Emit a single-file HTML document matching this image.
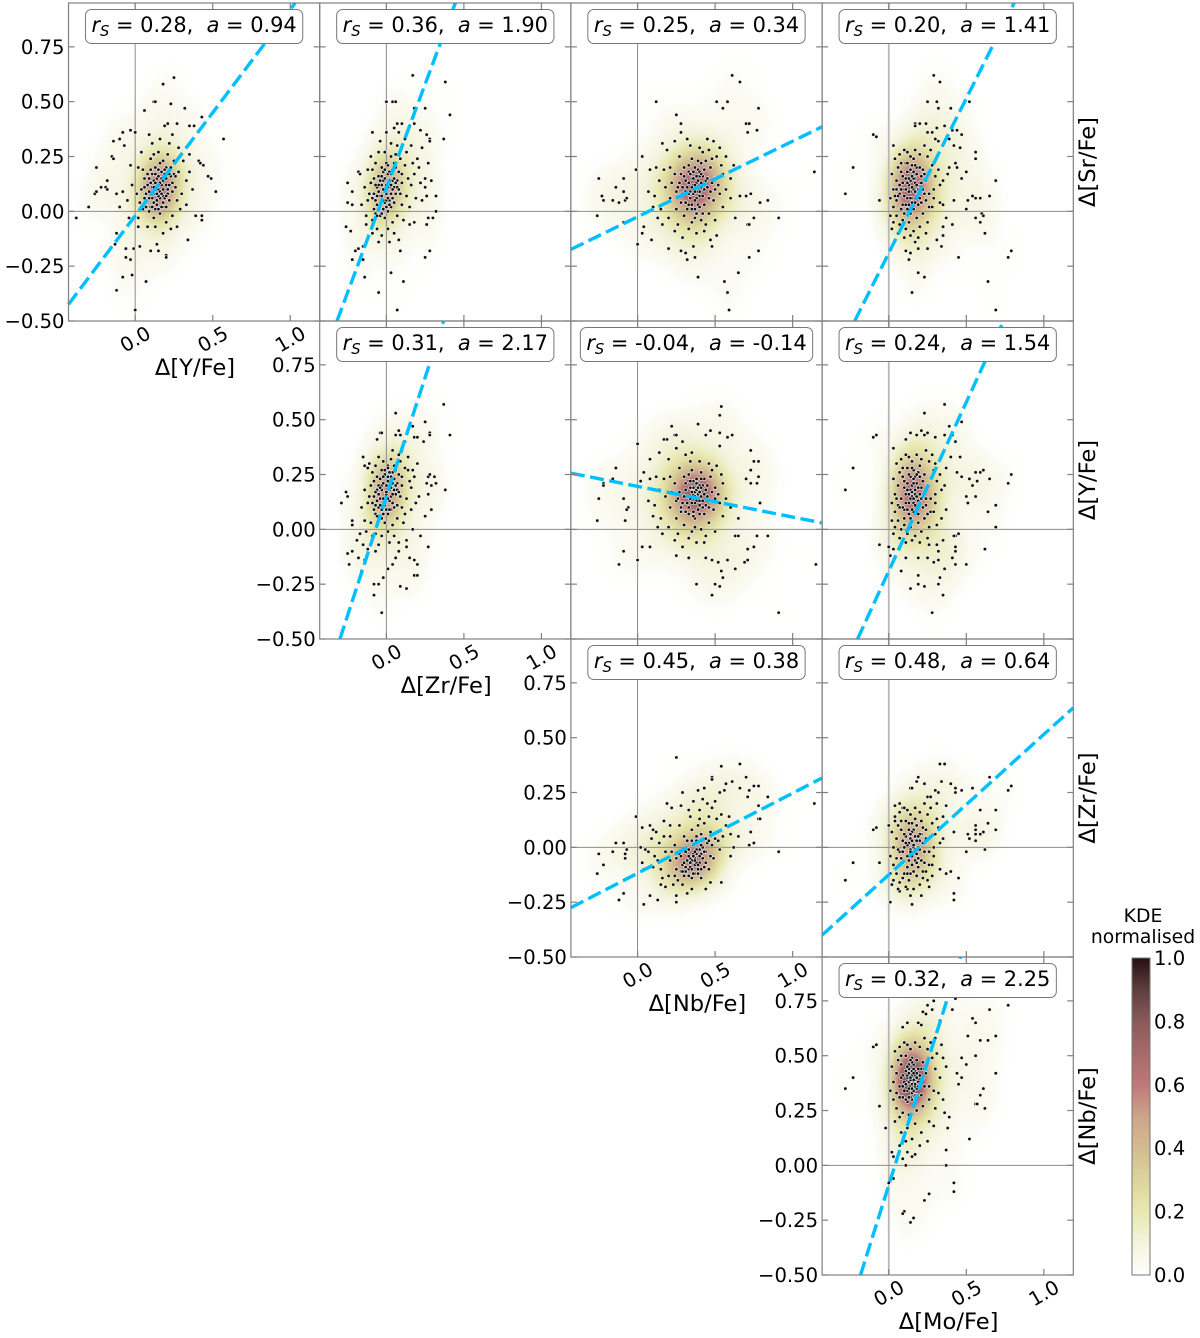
<!DOCTYPE html>
<html lang="en">
<head>
<meta charset="utf-8">
<title>KDE corner plot</title>
<style>
html,body{margin:0;padding:0;background:#fff;}
#figure{position:relative;width:1200px;height:1338px;overflow:hidden;background:#fff;}
#figure canvas{position:absolute;}
#figure svg{position:absolute;left:0;top:0;}
text{font-family:"DejaVu Sans","Liberation Sans",sans-serif;fill:#000;white-space:pre;}
</style>
</head>
<body>
<div id="figure"></div>
<script>
/* Scatter values [x, y], one array per panel */
const srVsY = [[-.38,-.03],[-.3,.02],[-.26,.08],[-.25,.09],[-.25,.2],[-.22,.11],[-.19,.11],[-.18,.14],[-.18,.1],[-.15,.25],[-.14,.24],[-.14,.32],[-.1,.33],[-.08,.36],[-.07,.3],[-.03,.37],[0,.36],[.12,.5],[.13,.5],[.06,.46],[.23,.49],[.18,.58],[.25,.61],[.32,.47],[.57,.33],[.52,.09],[.43,.43],[.38,.39],[.35,.39],[.41,.23],[.42,.22],[.44,.21],[.47,.16],[.49,.15],[.34,-.13],[.43,-.04],[.43,-.02],[.39,-.02],[.2,-.2],[.2,-.21],[.15,-.18],[.1,-.18],[.14,-.15],[.07,-.32],[0,-.45],[-.03,-.22],[-.06,-.21],[-.08,-.3],[-.02,-.29],[-.12,-.36],[-.06,-.17],[-.01,-.17],[.03,-.16],[-.13,-.15],[-.12,-.1],[.19,.39],[.21,.4],[.24,.35],[.27,.4],[.16,.33],[.09,.35],[.11,.31],
[.15,.1],[.12,.14],[.18,.07],[.2,.12],[.09,.09],[.14,.03],[.23,.16],[.17,.18],[.11,.06],[.06,.11],[.22,.05],[.26,.11],[.13,.2],[.19,.02],[.08,.17],[.16,-.01],[.03,.04],[.28,.18],[.25,.23],[.1,.24],[.05,.19],[.01,.08],[.3,.08],[.33,.14],[.21,.26],[.15,.27],[.07,.02],[.12,-.03],[.2,-.05],[.24,-.02],[.29,.01],[.02,-.03],[-.02,.12],[-.05,.05],[-.08,.09],[.04,.27],[.18,.23],[.27,.05],[.14,.15],[.16,.06],[.19,.17],[.11,.11],[.13,.08],[.17,.12],[.09,.15],[.21,.08],[.24,.13],[.06,.06],[.15,.19],[.2,.2],[.1,.02],[.31,.23],[.35,.18],[.37,.1],[.33,.03],[.27,-.07],[.18,-.1],[.08,-.07],[.02,-.07],[-.04,-.03],[-.1,.02],[-.12,.08],[.13,-.07],[.23,-.08],[.35,.26],[.02,.2],[-.03,.21],[.28,.29],[.22,.31],[.12,.26],
[.14,.11],[.16,.13],[.12,.09],[.18,.1],[.15,.07],[.13,.13],[.17,.15],[.1,.13],[.2,.15],[.14,.05],[.18,.04],[.12,.04],[.08,.12],[.22,.12],[.16,.09],[.11,.17],[.19,.19],[.15,.16],[.09,.06],[.13,.01],[.17,.02],[.21,.1],[.07,.08],[.24,.09],[.25,.17],[.06,.15],[.1,.19],[.16,.22],[.2,.02],[.15,.12],[.12,.11],[.18,.14],[.14,.08],[.23,.2],[.04,.1],[.22,.17],[.11,.02],[.17,.08],[.13,.17],[.19,.06],[.05,.01],[.09,0],[.15,.01],[.26,.16],[.2,.07]];

const srVsZr = [[.17,.62],[.38,.59],[0,.5],[.04,.5],[.06,.5],[.18,.47],[.25,.47],[.41,.44],[.07,.4],[.1,.4],[.05,.38],[.15,.39],[.18,.4],[-.09,.36],[0,.36],[.22,.37],[.26,.35],[.28,.33],[.28,.32],[.37,.33],[-.04,.32],[.23,.29],[.27,.22],[.25,.15],[.29,.14],[.25,.11],[.32,.07],[.26,.07],[.23,.05],[.32,0],[.3,-.03],[.27,-.03],[.18,-.05],[.15,-.06],[.26,-.06],[.28,-.18],[.25,-.21],[.09,-.18],[.03,-.28],[.11,-.32],[-.14,-.3],[-.05,-.37],[.07,-.45],[-.22,-.22],[-.2,-.18],[-.18,-.17],[-.15,-.22],[-.15,-.16],[-.26,-.07],[-.23,-.09],[-.25,.13],[-.22,.09],[-.25,.04],[-.22,.03],[-.18,.18],[-.17,.17],
[0,.08],[-.03,.12],[.02,.05],[-.06,.03],[.04,.14],[-.02,.18],[.06,.08],[-.08,.08],[-.04,-.02],[.01,0],[.08,.18],[.05,.22],[.1,.13],[-.1,.13],[-.12,.05],[-.05,.16],[.03,.25],[.09,.24],[-.01,.27],[-.07,.22],[-.09,.19],[.12,.21],[.13,.27],[.07,.3],[.03,.31],[-.12,.19],[-.14,.11],[-.16,.03],[-.13,-.02],[-.09,-.04],[-.06,-.08],[-.03,-.11],[.01,-.08],[.04,-.05],[.07,-.02],[.1,.03],[.13,.07],[.16,.12],[.18,.17],[.2,.24],[.17,.22],[.14,.15],[.02,.11],[-.01,.04],[-.04,.07],[.03,.02],[-.02,.14],[.05,.11],[.01,.17],[-.06,.11],[-.08,.15],[.07,.14],[-.03,.2],[.04,.19],[.09,.08],[-.07,-.01],[-.11,.08],[-.01,-.03],[.05,-.1],[.08,-.13],[.02,-.14],[-.05,-.14],[-.09,-.1],[-.13,-.06],[.11,-.04],[.12,.33],[.08,.36],[.16,.3],[.21,.2],[.22,.13],[.19,.06],[.15,.02],[.06,.26],[-.05,.27],[-.1,.25],[0,.22],[.01,.13],
[-.01,.09],[.01,.11],[-.03,.07],[.03,.08],[0,.05],[-.02,.1],[.02,.14],[-.05,.09],[.05,.15],[-.04,.03],[0,.02],[-.06,.07],[.04,.06],[-.01,.15],[.02,.18],[-.03,.16],[.06,.2],[.07,.11],[-.07,.05],[-.02,.01],[.01,.06],[.03,.12],[-.05,.12],[0,.12],[-.08,.01],[.04,.1],[-.04,.14],[-.02,.05],[.02,.03],[.06,.13],[-.09,.06],[.01,.21],[.05,.04],[-.06,-.02],[.08,.1],[-.03,-.01],[.03,.17],[-.01,.19],[.1,.17],[-.07,.12]];

const srVsNb = [[.61,.62],[.66,.59],[.12,.5],[.51,.5],[.58,.5],[.55,.47],[.78,.47],[.25,.44],[.28,.4],[.28,.36],[.7,.4],[.72,.4],[.71,.36],[.77,.37],[.32,.33],[.24,.32],[.16,.31],[.19,.28],[.03,.25],[-.01,.19],[-.25,.15],[-.09,.15],[-.14,.11],[-.09,.09],[-.23,.07],[-.22,.05],[-.16,.05],[-.12,.04],[-.08,.05],[-.07,.06],[-.26,-.02],[1.14,.18],[.79,.04],[.84,.05],[.73,.08],[.7,.07],[.66,.07],[.91,-.03],[.75,-.03],[.71,-.06],[.72,-.06],[.63,-.03],[.78,-.18],[.72,-.21],[.65,-.28],[.56,-.32],[.58,-.37],[.59,-.45],[.39,-.3],[0,-.15],[-.09,-.05],[.03,-.1],[.04,-.07],[.09,-.13],[.2,-.17],[.28,-.18],[.32,-.22],[.37,-.21],[.31,-.19],[.36,-.16],[.48,-.16],[.47,-.13],[.51,-.11],
[.38,.13],[.34,.09],[.42,.16],[.36,.18],[.4,.07],[.31,.14],[.45,.11],[.33,.03],[.37,.01],[.43,.03],[.29,.08],[.27,.13],[.24,.17],[.3,.2],[.35,.24],[.41,.22],[.47,.2],[.5,.15],[.53,.08],[.49,.05],[.46,-.01],[.41,-.04],[.35,-.05],[.3,-.02],[.25,.01],[.21,.06],[.18,.11],[.14,.14],[.11,.07],[.07,.09],[.1,.02],[.15,.01],[.2,-.03],[.26,-.06],[.33,-.08],[.38,-.1],[.44,-.06],[.5,-.04],[.55,.02],[.57,.1],[.55,.17],[.51,.25],[.46,.28],[.4,.29],[.34,.3],[.27,.25],[.21,.2],[.17,.19],[.12,.2],[.08,.19],[.45,.33],[.49,.32],[.53,.29],[.57,.25],[.62,.21],[.6,.15],[.38,.06],[.39,.19],[.32,.11],[.36,.12],[.41,.11],[.44,.14],[.35,.15],[.4,.16],[.28,.04],[.37,-.03],[.42,.27],[.25,.09],[.22,.13],[.47,.09],[.52,.12],[.31,.04],[.16,-.06],[.24,-.09],[.29,-.12],[.43,-.09],[.13,-.03],[.4,.09],[.33,.18],[.48,.24],[.54,.21],[.6,.06],
[.37,.12],[.39,.14],[.35,.11],[.41,.13],[.38,.09],[.36,.15],[.4,.18],[.33,.13],[.43,.1],[.37,.05],[.34,.06],[.42,.07],[.39,.03],[.35,.01],[.31,.09],[.45,.15],[.29,.11],[.37,.2],[.43,.19],[.33,.21],[.48,.13],[.27,.07],[.38,.16],[.36,.08],[.4,.02],[.32,.01],[.46,.06],[.3,.16],[.41,.17],[.34,.17],[.39,.23],[.44,.23],[.35,.03],[.26,.11],[.5,.1],[.38,-.01],[.42,-.01],[.37,.09],[.33,.08],[.28,.17]];

const srVsMo = [[.29,.62],[.33,.59],[.25,.5],[.31,.5],[.32,.47],[.52,.5],[.4,.47],[-.1,.35],[-.08,.34],[-.23,.2],[-.28,.08],[-.06,.05],[.03,.3],[.17,.4],[.17,.39],[.2,.4],[.24,.4],[.36,.39],[.31,.38],[.25,.36],[.28,.36],[.41,.37],[.44,.37],[.47,.35],[.3,.33],[.32,.32],[.39,.33],[.42,.3],[.46,.29],[.56,.27],[.56,.24],[.43,.22],[.39,.2],[.38,.17],[.44,.2],[.47,.15],[.5,.18],[.69,.14],[.65,.07],[.54,.07],[.56,.06],[.59,.06],[.51,.05],[.42,.05],[.33,.04],[.35,.03],[.5,.01],[.6,-.01],[.61,-.02],[.56,-.03],[.59,-.05],[.37,-.03],[.41,-.06],[.35,-.07],[.62,-.1],[.35,-.11],[.45,-.21],[.79,-.18],[.77,-.21],[.64,-.32],[.69,-.45],[.15,-.37],[.19,-.28],[.23,-.3],[.13,-.22],[.14,-.19],[.11,-.18],[.19,-.17],[.25,-.17],[.31,-.13],[.34,-.16],[.17,-.14],
[.16,.1],[.14,.14],[.18,.07],[.12,.06],[.2,.13],[.1,.1],[.15,.02],[.21,.04],[.09,.03],[.07,.08],[.13,.18],[.18,.2],[.22,.19],[.24,.14],[.26,.08],[.11,.22],[.14,.25],[.2,.26],[.25,.25],[.28,.21],[.3,.16],[.33,.12],[.05,.14],[.03,.1],[.01,.06],[.03,.02],[.05,-.02],[.09,-.04],[.13,-.05],[.18,-.03],[.22,-.01],[.26,.02],[.29,.06],[.06,.2],[.04,.24],[.07,.26],[.1,.28],[.17,.28],[.23,.3],[.27,.28],[.15,.06],[.13,.12],[.17,.15],[.11,.15],[.19,.1],[.09,.13],[.16,.18],[.12,.01],[.07,-.06],[.03,-.05],[.01,-.02],[.11,-.08],[.16,-.09],[.2,-.07],[.25,-.05],[.1,-.12],[.14,-.11],[.19,-.12],[.06,-.1],[.02,-.08],[.24,-.1],[.29,.1],[.32,.19],[.35,.14],[.28,.02],[.15,.21],[.08,.18],[.21,.16],[.14,.09],[.17,.04],[.05,.05],[.23,.08],[.08,.22],[.02,.17],[.12,.27],
[.15,.11],[.17,.13],[.13,.09],[.19,.08],[.14,.06],[.12,.13],[.16,.15],[.1,.07],[.18,.17],[.15,.04],[.11,.03],[.2,.06],[.08,.1],[.22,.1],[.14,.19],[.17,.21],[.12,.18],[.09,.16],[.2,.2],[.16,.01],[.06,.07],[.13,.03],[.18,.12],[.11,.1],[.15,.16],[.24,.05],[.04,.07],[.08,.01],[.21,.13],[.19,.03],[.12,.22],[.16,.24],[.07,.12],[.14,-.01],[.1,-.01],[.17,.09],[.13,.15],[.2,.1],[.23,.17],[.05,.1]];

const yVsZr = [[.37,.57],[.06,.53],[.25,.49],[.41,.43],[.28,.44],[.28,.43],[.17,.47],[-.04,.44],[-.03,.44],[.08,.45],[.06,.43],[.09,.43],[-.06,.41],[.18,.42],[.2,.42],[.12,.4],[.24,.4],[-.15,.33],[.31,.24],[.27,.24],[.28,.25],[.26,.21],[.29,.2],[.32,.21],[.38,.18],[.27,.16],[.19,.12],[.29,.09],[.25,.06],[-.26,.17],[-.25,.15],[-.29,.12],[-.22,.02],[-.22,.04],[.17,0],[.22,-.03],[.27,-.08],[.13,-.05],[.13,-.08],[.15,-.13],[.18,-.14],[.2,-.16],[.18,-.21],[.2,-.21],[.09,-.26],[.13,-.27],[-.03,-.38],[-.08,-.3],[-.08,-.25],[-.05,-.25],[-.02,-.22],[.01,-.18],[-.16,-.19],[-.24,-.16],[-.25,-.11],[-.22,-.1],[-.18,-.13],[-.14,-.14],[.08,-.1],[.06,-.13],[.04,-.16],
[0,.16],[-.03,.2],[.02,.13],[-.05,.1],[.04,.21],[-.01,.25],[.06,.16],[-.08,.15],[-.04,.05],[.01,.07],[.08,.25],[.05,.29],[.1,.2],[-.1,.2],[-.12,.12],[-.06,.24],[.03,.32],[.09,.31],[-.02,.31],[-.07,.29],[-.09,.26],[.12,.28],[.14,.33],[.1,.36],[.04,.36],[-.12,.28],[-.14,.18],[-.16,.1],[-.14,.04],[-.1,.03],[-.07,-.02],[-.03,-.03],[.01,-.01],[.04,.02],[.07,.05],[.1,.1],[.13,.14],[.16,.19],[.18,.24],[.2,.3],[.17,.27],[.15,.22],[.02,.18],[-.01,.11],[-.04,.14],[.03,.09],[-.02,.21],[.05,.18],[.01,.24],[-.06,.18],[-.08,.22],[.07,.21],[-.03,.27],[.04,.26],[.09,.15],[-.07,.07],[-.11,.15],[-.01,.03],[.05,-.03],[.08,-.06],[.02,-.06],[-.05,-.07],[-.09,-.03],[-.13,-.01],[.11,.03],[-.17,-.02],[-.19,-.05],[-.15,-.07],[-.12,-.09],[-.07,-.1],[.12,.07],[.16,.09],[-.11,.3],[-.14,.29],[-.05,.33],[.21,.15],[.14,.27],[.07,.11],[-.03,.09],[.01,.29],[.08,.34],
[0,.17],[.02,.2],[-.02,.14],[.03,.15],[-.01,.12],[-.03,.18],[.01,.22],[-.05,.16],[.05,.23],[-.04,.11],[0,.09],[-.06,.13],[.04,.12],[-.02,.24],[.02,.26],[-.04,.23],[.06,.27],[.07,.18],[-.07,.11],[-.02,.07],[.01,.14],[.03,.19],[-.05,.2],[0,.2],[-.08,.09],[.04,.16],[-.04,.19],[-.02,.1],[.02,.09],[.06,.2],[-.09,.12],[.01,.28],[.05,.1],[-.06,.06],[.08,.17],[-.03,.05],[.03,.24],[-.01,.27],[.1,.24],[-.07,.17]];

const yVsNb = [[.54,.56],[.53,.52],[.39,.48],[.22,.47],[.17,.41],[.19,.41],[.24,.43],[.25,.43],[.29,.4],[.25,.37],[0,.39],[.73,.36],[.73,.27],[.75,.31],[.78,.31],[.78,.24],[.77,.21],[.73,.21],[.7,.23],[.79,.12],[.65,.05],[.84,-.03],[.77,-.03],[.75,-.08],[.71,-.09],[.71,-.14],[.69,-.15],[.63,-.18],[1.15,-.16],[.91,-.38],[-.14,.28],[-.16,.23],[-.22,.21],[-.22,.2],[-.25,.14],[-.09,.14],[-.06,.1],[-.07,.09],[-.26,.04],[-.08,.04],[-.09,-.1],[-.12,-.16],[0,-.14],[.03,-.08],[.08,-.08],[.04,.26],[.02,.22],[.08,.32],[.14,.35],[.2,.32],[.31,.34],[.35,.35],[.47,.45],[.44,.43],[.53,.44],[.58,.42],[.61,.43],[.53,.38],[.38,-.25],[.48,-.3],[.5,-.25],[.53,-.26],[.55,-.22],[.54,-.19],[.25,-.12],[.33,-.13],[.44,-.13],[.48,-.14],[.52,-.15],[.58,-.14],[.63,-.03],[.65,-.03],
[.38,.17],[.34,.14],[.42,.2],[.36,.22],[.4,.11],[.31,.18],[.45,.15],[.33,.07],[.37,.05],[.43,.07],[.29,.12],[.27,.17],[.24,.21],[.3,.24],[.35,.27],[.41,.26],[.47,.24],[.5,.19],[.53,.12],[.49,.09],[.46,.03],[.41,0],[.35,-.01],[.3,.02],[.25,.05],[.21,.1],[.18,.15],[.14,.18],[.11,.11],[.07,.13],[.1,.06],[.15,.05],[.2,.01],[.26,-.02],[.33,-.04],[.38,-.06],[.44,-.03],[.5,-.01],[.55,.06],[.57,.14],[.55,.21],[.51,.29],[.46,.3],[.4,.31],[.34,.31],[.27,.28],[.21,.24],[.17,.23],[.12,.24],[.08,.23],[.38,.13],[.39,.21],[.32,.15],[.36,.16],[.41,.15],[.44,.18],[.35,.19],[.4,.2],[.28,.08],[.37,.01],[.25,.13],[.22,.17],[.47,.13],[.52,.16],[.31,.08],[.16,-.02],[.24,-.05],[.29,-.08],[.43,-.06],[.13,.01],[.4,.13],[.33,.22],[.48,.27],[.54,.25],[.6,.1],[.36,.08],[.42,.1],[.37,.17],[.39,.16],
[.38,.18],[.4,.17],[.36,.19],[.37,.15],[.39,.19],[.35,.17],[.41,.19],[.34,.19],[.43,.16],[.37,.12],[.35,.12],[.42,.13],[.39,.09],[.36,.06],[.32,.12],[.45,.2],[.3,.15],[.38,.23],[.43,.23],[.33,.25],[.48,.17],[.28,.1],[.38,.21],[.4,.07],[.33,.1],[.46,.1],[.31,.21],[.41,.23],[.34,.22],[.44,.11],[.26,.14],[.5,.14]];

const yVsMo = [[.36,.57],[.23,.53],[.39,.47],[.47,.49],[-.1,.42],[-.08,.43],[.03,.37],[.14,.44],[.18,.43],[.21,.45],[.23,.43],[.25,.44],[.3,.42],[.11,.41],[.36,.43],[.41,.43],[.43,.4],[.46,.33],[-.23,.28],[-.28,.18],[.4,.33],[.44,.26],[.47,.24],[.52,.23],[.56,.26],[.59,.26],[.61,.27],[.65,.23],[.79,.25],[.77,.21],[.54,.2],[.57,.22],[.5,.15],[.56,.15],[.51,.12],[.69,.11],[.64,.08],[.69,.01],[.62,-.09],[-.06,-.07],[.43,-.03],[.45,-.02],[.42,-.03],[.43,-.08],[.43,-.1],[.35,-.05],[.31,-.07],[.32,-.1],[.41,-.13],[.5,-.16],[.43,-.16],[.32,-.14],[.29,-.15],[.25,-.13],[.19,-.13],[.11,-.13],[.36,-.18],[.33,-.22],[.32,-.25],[.35,-.3],[.19,-.21],[.19,-.25],[.23,-.26],[.14,-.27],[.28,-.38],[.08,-.19],[0,-.08],[.03,-.09],[.01,-.12],
[.17,.16],[.15,.2],[.19,.13],[.13,.12],[.21,.19],[.11,.16],[.16,.08],[.22,.1],[.1,.09],[.08,.14],[.14,.24],[.19,.26],[.23,.25],[.25,.2],[.27,.14],[.12,.28],[.15,.31],[.21,.32],[.26,.31],[.29,.27],[.31,.22],[.34,.18],[.06,.2],[.04,.16],[.02,.12],[.04,.08],[.06,.04],[.1,.02],[.14,.01],[.19,.03],[.23,.05],[.27,.08],[.3,.12],[.07,.26],[.05,.3],[.08,.32],[.11,.34],[.18,.34],[.24,.36],[.28,.34],[.16,.12],[.14,.18],[.18,.21],[.12,.21],[.2,.16],[.1,.19],[.17,.24],[.13,.07],[.08,0],[.04,.01],[.02,.04],[.12,-.02],[.17,-.03],[.21,-.01],[.26,.01],[.11,-.06],[.15,-.05],[.2,-.06],[.07,-.04],[.03,-.02],[.25,-.04],[.3,.16],[.33,.25],[.36,.2],[.29,.08],[.16,.27],[.09,.24],[.22,.22],[.15,.15],[.18,.1],[.06,.11],[.24,.14],[.09,.28],[.03,.23],[.13,.33],[.34,.05],[.37,.09],[.31,.02],[.26,-.07],[.3,.3],[.37,.28],
[.17,.18],[.15,.17],[.19,.19],[.13,.16],[.18,.15],[.16,.21],[.14,.14],[.2,.12],[.12,.18],[.17,.11],[.15,.09],[.21,.14],[.11,.12],[.23,.17],[.16,.23],[.18,.25],[.13,.25],[.1,.22],[.2,.24],[.09,.1],[.14,.05],[.19,.07],[.07,.1],[.24,.11],[.16,.14],[.25,.07],[.05,.14],[.1,.05],[.12,.09],[.22,.15],[.15,.28],[.2,.29]];

const zrVsNb = [[.25,.41],[.54,.37],[.66,.38],[.7,.32],[.48,.32],[.48,.31],[.57,.29],[.61,.3],[.43,.27],[.39,.26],[.66,.27],[.72,.26],[.75,.28],[.78,.28],[.29,.25],[.84,.23],[1.14,.2],[.53,.25],[.56,.26],[.71,.23],[.78,.19],[.19,.2],[.22,.18],[-.01,.14],[.03,.09],[.08,.1],[.17,.12],[.21,.1],[.78,.13],[.79,.13],[.73,.07],[.75,.02],[.72,.01],[.91,-.02],[-.14,.02],[-.09,.02],[-.07,-.01],[-.16,-.02],[-.25,-.03],[-.08,-.03],[-.08,-.05],[-.22,-.08],[-.26,-.12],[-.09,-.21],[-.12,-.24],[.04,-.26],[.08,-.22],[.13,-.24],[.25,-.25],[.25,-.22],[.32,-.21],[.35,-.19],[.23,-.17],[.44,-.19],[.47,-.16],[.54,-.16],[.18,-.18],[.15,-.17],[.03,-.07],[.04,-.1],[.05,-.01],[.02,0],[.09,.04],[.1,.08],[.65,.05],[.62,0],
[.38,-.03],[.34,-.05],[.42,0],[.36,.01],[.4,-.07],[.31,-.02],[.45,.02],[.33,-.1],[.37,-.12],[.43,-.09],[.29,-.08],[.27,-.03],[.24,.01],[.3,.05],[.35,.08],[.41,.06],[.47,.07],[.5,.04],[.53,-.01],[.49,-.05],[.46,-.1],[.41,-.14],[.35,-.14],[.3,-.13],[.25,-.1],[.21,-.06],[.18,-.02],[.14,.02],[.11,-.04],[.07,-.02],[.1,-.09],[.15,-.1],[.2,-.13],[.26,-.15],[.55,.05],[.57,.1],[.6,.06],[.51,.13],[.46,.14],[.4,.13],[.34,.14],[.27,.1],[.21,.05],[.17,.05],[.12,.07],[.38,.03],[.39,.1],[.32,.03],[.36,-.03],[.41,-.03],[.44,-.02],[.35,-.06],[.4,-.01],[.28,-.11],[.37,-.08],[.25,-.05],[.22,-.02],[.47,-.04],[.52,.03],[.31,-.11],[.16,-.14],[.24,-.13],[.29,-.17],[.43,.11],[.13,-.06],[.4,.17],[.33,.17],[.48,.18],[.54,.15],[.6,-.04],[.36,.21],[.42,.22],[.37,-.05],[.39,-.1],[.28,.19],[.45,.2],[.5,.21],[.59,.14],[.34,-.09],[.38,-.07],[.33,-.04],
[.36,-.04],[.38,-.01],[.34,-.07],[.4,-.04],[.35,-.1],[.37,-.06],[.39,-.08],[.32,-.06],[.42,-.05],[.41,.01],[.36,-.12],[.33,-.01],[.44,.04],[.38,.05],[.3,-.07],[.46,.03],[.35,.03],[.41,-.1],[.28,-.04],[.33,-.13],[.43,-.02],[.48,.01],[.39,-.12],[.31,-.09],[.37,-.02],[.4,.03],[.29,-.11],[.44,-.07]];

const zrVsMo = [[.33,.38],[.36,.38],[.19,.32],[.18,.3],[.14,.27],[.15,.27],[.23,.29],[.34,.3],[.4,.29],[.43,.27],[.3,.26],[.32,.25],[.25,.23],[.43,.25],[.47,.26],[.54,.27],[.65,.32],[.79,.28],[.77,.26],[.07,.2],[.04,.19],[.59,.17],[.69,.17],[.04,.12],[0,.1],[-.08,.09],[-.1,.08],[.09,.18],[.64,.11],[.56,.1],[.56,.08],[.56,.06],[.61,.07],[.59,.06],[.69,.08],[.51,.06],[.52,.04],[.56,.03],[.42,.07],[.62,-.01],[.5,-.02],[-.23,-.07],[-.28,-.15],[-.06,-.07],[.45,-.14],[.4,-.11],[.37,-.12],[.42,-.21],[.42,-.24],[.21,-.22],[.15,-.26],[.01,-.25],[.14,-.22],[.26,-.18],[.07,-.2],[.12,-.19],[.33,-.1],[.28,-.13],[.22,-.14],
[.16,0],[.14,.04],[.18,-.03],[.12,-.04],[.2,.03],[.1,0],[.15,-.08],[.21,-.06],[.09,-.07],[.07,-.02],[.13,.08],[.18,.1],[.22,.09],[.24,.04],[.26,-.02],[.11,.12],[.14,.15],[.2,.16],[.25,.15],[.28,.11],[.3,.06],[.33,.02],[.05,.04],[.03,0],[.01,-.04],[.03,-.08],[.05,-.12],[.09,-.14],[.13,-.15],[.18,-.13],[.22,-.11],[.26,-.08],[.29,-.04],[.06,.1],[.04,.14],[.07,.16],[.1,.18],[.17,.18],[.23,.2],[.27,.18],[.15,-.04],[.13,.02],[.17,.05],[.11,.05],[.19,0],[.09,.03],[.16,.08],[.12,-.09],[.07,-.16],[.03,-.15],[.01,-.12],[.11,-.18],[.16,-.19],[.2,-.17],[.25,-.15],[.1,-.12],[.14,-.12],[.19,-.09],[.06,-.19],[.02,-.17],[.24,-.11],[.29,0],[.32,.09],[.35,.04],[.28,-.08],[.15,.11],[.08,.08],[.21,.06],[.14,-.01],[.17,-.06],[.05,-.05],[.23,-.02],[.08,.12],[.02,.07],[.12,.17],[.31,.13],[.35,.14],[.37,.19],[.31,.2],[.27,.23],
[.16,.01],[.18,.03],[.14,-.02],[.12,.01],[.2,.06],[.15,.03],[.17,-.01],[.13,-.06],[.11,.02],[.19,-.05],[.22,.02],[.09,-.02],[.15,.07],[.21,.12],[.24,.08],[.1,.06],[.17,.13],[.13,.11],[.18,-.07],[.08,-.05],[.12,-.12],[.16,-.11],[.23,-.07],[.06,-.01],[.27,.05],[.19,.05],[.14,.06],[.2,-.01]];

const nbVsMo = [[.77,.73],[.65,.71],[.43,.76],[.41,.71],[.29,.75],[.25,.73],[.28,.71],[.22,.7],[.24,.69],[.54,.67],[.56,.65],[.33,.66],[.19,.65],[.21,.64],[.12,.65],[.09,.63],[.51,.59],[.69,.59],[.59,.57],[.64,.57],[-.1,.54],[-.08,.55],[.56,.5],[.5,.46],[.47,.49],[.69,.42],[-.23,.4],[-.28,.35],[.61,.35],[.59,.32],[.44,.42],[.47,.4],[.45,.37],[.56,.28],[.57,.28],[.62,.26],[-.06,.27],[-.02,.17],[.52,.12],[.38,.17],[.39,.22],[.36,.24],[.37,.07],[.37,0],[.42,-.08],[.42,-.12],[.26,-.13],[.23,-.16],[.1,-.21],[.09,-.22],[.16,-.24],[.14,-.26],[0,-.08],[.03,-.06],[.11,0],[.02,.06],[.03,.04],[.15,.04],[.17,.05],[.09,.03],
[.16,.38],[.14,.42],[.18,.35],[.12,.34],[.2,.41],[.1,.38],[.15,.3],[.21,.32],[.09,.31],[.07,.36],[.13,.46],[.18,.48],[.22,.47],[.24,.42],[.26,.36],[.11,.5],[.14,.53],[.2,.54],[.25,.53],[.28,.49],[.3,.44],[.33,.4],[.05,.42],[.03,.38],[.01,.34],[.03,.3],[.05,.26],[.09,.24],[.13,.23],[.18,.25],[.22,.27],[.26,.3],[.29,.34],[.06,.48],[.04,.52],[.07,.54],[.1,.56],[.17,.56],[.23,.58],[.27,.56],[.15,.34],[.13,.4],[.17,.43],[.11,.43],[.19,.38],[.09,.41],[.16,.46],[.12,.29],[.07,.22],[.04,.2],[.08,.15],[.12,.17],[.17,.19],[.21,.15],[.26,.2],[.11,.11],[.15,.12],[.2,.09],[.07,.09],[.12,.06],[.25,.11],[.3,.26],[.32,.33],[.35,.3],[.29,.18],[.15,.49],[.08,.46],[.21,.44],[.14,.37],[.17,.32],[.05,.33],[.23,.36],[.08,.5],[.02,.45],[.12,.55],[.31,.51],[.35,.49],[.37,.45],[.3,.58],[.34,.55],[.16,.4],[.15,.41],[.17,.39],[.14,.36],
[.16,.39],[.15,.37],[.17,.41],[.13,.38],[.18,.4],[.14,.39],[.16,.36],[.12,.4],[.19,.36],[.15,.43],[.13,.35],[.17,.36],[.11,.37],[.15,.33],[.14,.31],[.18,.32],[.1,.34],[.13,.44],[.16,.44],[.19,.44],[.12,.45],[.2,.37],[.09,.36],[.15,.47],[.17,.3],[.11,.3],[.22,.4],[.08,.4],[.14,.48],[.16,.34],[.13,.31],[.12,.41],[.18,.42],[.15,.35],[.16,.42],[.14,.4],[.17,.37],[.13,.42],[.23,.44],[.07,.31]];

/* Panel values: fit slope, fit intercept, Spearman coefficient, peak of normalised KDE */
const panelScatter = [srVsY, srVsZr, srVsNb, srVsMo, yVsZr, yVsNb, yVsMo, zrVsNb, zrVsMo, nbVsMo];
const fitSlopes = [0.94, 1.90, 0.345, 1.41, 2.17, -0.14, 1.54, 0.365, 0.64, 2.25];
const fitIntercepts = [-0.02, 0.105, -0.025, -0.19, 0.15, 0.196, -0.19, -0.118, -0.125, -0.09];
const spearmanLabels = ['0.28', '0.36', '0.25', '0.20', '0.31', '-0.04', '0.24', '0.45', '0.48', '0.32'];
const slopeLabels = ['0.94', '1.90', '0.34', '1.41', '2.17', '-0.14', '1.54', '0.38', '0.64', '2.25'];
const kdePeaks = [0.66, 0.52, 0.74, 0.72, 0.55, 0.78, 0.68, 0.64, 0.52, 0.95];
const panelRows = [0, 0, 0, 0, 1, 1, 1, 2, 2, 3];
const panelCols = [0, 1, 2, 3, 1, 2, 3, 2, 3, 3];

/* Axes */
const xTicks = [0, 0.5, 1];
const xTickLabels = ['0.0', '0.5', '1.0'];
const yTicks = [-0.5, -0.25, 0, 0.25, 0.5, 0.75];
const yTickLabels = ['\u22120.50', '\u22120.25', '0.00', '0.25', '0.50', '0.75'];
const xAxisTitles = ['\u0394[Y/Fe]', '\u0394[Zr/Fe]', '\u0394[Nb/Fe]', '\u0394[Mo/Fe]'];
const yAxisTitles = ['\u0394[Sr/Fe]', '\u0394[Y/Fe]', '\u0394[Zr/Fe]', '\u0394[Nb/Fe]'];
const colourTicks = [0, 0.2, 0.4, 0.6, 0.8, 1];
const colourTickLabels = ['0.0', '0.2', '0.4', '0.6', '0.8', '1.0'];

/* Colour map of the KDE */
const cmapPositions = [0, 0.1, 0.2, 0.3, 0.4, 0.5, 0.6, 0.7, 0.8, 0.9, 1];
const cmapColours = [[254,254,252],[244,244,222],[232,232,176],[220,212,156],[211,188,144],[204,164,138],[190,120,120],[166,106,106],[138,90,90],[94,62,62],[38,16,16]];

const X_MIN = -0.43, X_MAX = 1.19, Y_MIN = -0.5, Y_MAX = 0.95;
const colLefts = [68.5, 319.7, 570.9, 822.1];
const PANEL_W = 251.2, ROW_TOP = 3, PANEL_H = 318;
const GREY = '#808080';
const NS = 'http://www.w3.org/2000/svg';

function xPos(col, v) { return colLefts[col] + (v - X_MIN) / (X_MAX - X_MIN) * PANEL_W; }
function yPos(row, v) { return ROW_TOP + row * PANEL_H + (Y_MAX - v) / (Y_MAX - Y_MIN) * PANEL_H; }

function colourAt(t) {
  const v = Math.max(0, Math.min(1, t));
  let i = 0;
  while (i < cmapPositions.length - 2 && v > cmapPositions[i + 1]) i++;
  const f = (v - cmapPositions[i]) / (cmapPositions[i + 1] - cmapPositions[i]);
  return cmapColours[i].map((c, k) => c + (cmapColours[i + 1][k] - c) * f);
}

function make(tag, attrs, parent) {
  const el = document.createElementNS(NS, tag);
  for (const k in attrs) el.setAttribute(k, attrs[k]);
  parent.appendChild(el);
  return el;
}

const figure = document.getElementById('figure');

/* KDE layers computed from the scatter arrays */
function drawKde(p) {
  const pts = panelScatter[p], col = panelCols[p], row = panelRows[p];
  const cell = 2, nx = Math.ceil(PANEL_W / cell), ny = Math.ceil(PANEL_H / cell);
  const n = pts.length;
  const mx = pts.reduce((s, q) => s + q[0], 0) / n, my = pts.reduce((s, q) => s + q[1], 0) / n;
  const sx = Math.sqrt(pts.reduce((s, q) => s + (q[0] - mx) * (q[0] - mx), 0) / n);
  const sy = Math.sqrt(pts.reduce((s, q) => s + (q[1] - my) * (q[1] - my), 0) / n);
  const hx = sx * 0.46, hy = sy * 0.46;
  const grid = new Float64Array(nx * ny);
  let peak = 0;
  for (let j = 0; j < ny; j++) {
    const gy = Y_MAX - (j + 0.5) / ny * (Y_MAX - Y_MIN);
    for (let i = 0; i < nx; i++) {
      const gx = X_MIN + (i + 0.5) / nx * (X_MAX - X_MIN);
      let d = 0;
      for (let k = 0; k < n; k++) {
        const ax = (gx - pts[k][0]) / hx, ay = (gy - pts[k][1]) / hy;
        const r = ax * ax + ay * ay;
        if (r < 16) d += Math.exp(-0.5 * r);
      }
      grid[j * nx + i] = d;
      if (d > peak) peak = d;
    }
  }
  const cv = document.createElement('canvas');
  cv.width = nx; cv.height = ny;
  cv.style.left = colLefts[col] + 'px';
  cv.style.top = (ROW_TOP + row * PANEL_H) + 'px';
  cv.style.width = PANEL_W + 'px';
  cv.style.height = PANEL_H + 'px';
  
  
  const ctx = cv.getContext('2d');
  const img = ctx.createImageData(nx, ny);
  for (let q = 0; q < nx * ny; q++) {
    const level = Math.pow(grid[q] / peak, 1.2) * kdePeaks[p];
    const c = colourAt(level);
    const fade = Math.min(1, level / 0.025);
    img.data[q * 4] = 255 + (c[0] - 255) * fade;
    img.data[q * 4 + 1] = 255 + (c[1] - 255) * fade;
    img.data[q * 4 + 2] = 255 + (c[2] - 255) * fade;
    img.data[q * 4 + 3] = 255;
  }
  ctx.putImageData(img, 0, 0);
  figure.appendChild(cv);
}
panelScatter.forEach((_, p) => drawKde(p));

const svg = document.createElementNS(NS, 'svg');
svg.setAttribute('width', '1200');
svg.setAttribute('height', '1338');
svg.setAttribute('viewBox', '0 0 1200 1338');


figure.appendChild(svg);

const defs = make('defs', {}, svg);
const grad = make('linearGradient', { id: 'cmap', x1: '0', y1: '1', x2: '0', y2: '0' }, defs);
cmapPositions.forEach((pos, i) => {
  const c = cmapColours[i];
  make('stop', { offset: pos, 'stop-color': 'rgb(' + c.join(',') + ')' }, grad);
});

function drawPanel(p) {
  const col = panelCols[p], row = panelRows[p];
  const left = colLefts[col], right = left + PANEL_W;
  const top = ROW_TOP + row * PANEL_H, bottom = top + PANEL_H;
  const g = make('g', {}, svg);
  
  

  const zx = xPos(col, 0), zy = yPos(row, 0);
  const vz = make('line', { x1: zx, x2: zx, y1: top, y2: bottom, stroke: col === 3 ? '#b8b8b8' : '#8c8c8c', 'stroke-width': col === 3 ? 1.8 : 1 }, g);
  
  
  const hz = make('line', { x1: left, x2: right, y1: zy, y2: zy, stroke: '#8c8c8c', 'stroke-width': 1 }, g);
  
  

  /* Each star is a dark dot with a pale rim */
  panelScatter[p].forEach(q => {
    const dot = make('circle', { cx: xPos(col, q[0]), cy: yPos(row, q[1]), r: 1.75, fill: '#0a0a0a', stroke: '#fff', 'stroke-opacity': 0.8, 'stroke-width': 0.8 }, g);
    
    
  });

  /* Fit line clipped to the axes */
  const a = fitSlopes[p], b = fitIntercepts[p];
  let x1 = X_MIN, x2 = X_MAX;
  if (a !== 0) {
    const xa = (Y_MIN - b) / a, xb = (Y_MAX - b) / a;
    x1 = Math.max(X_MIN, Math.min(xa, xb));
    x2 = Math.min(X_MAX, Math.max(xa, xb));
  }
  const fit = make('line', { x1: xPos(col, x1), y1: yPos(row, a * x1 + b), x2: xPos(col, x2), y2: yPos(row, a * x2 + b), stroke: '#00bfff', 'stroke-width': 3.4, 'stroke-dasharray': '14 5.5' }, g);
  
  

  /* Spines */
  const frame = make('rect', { x: left, y: top, width: PANEL_W, height: PANEL_H, fill: 'none', stroke: GREY, 'stroke-width': 1.2 }, g);
  
  

  /* Inward ticks on all four sides */
  xTicks.forEach(v => {
    const tx = xPos(col, v);
    const t1 = make('line', { x1: tx, x2: tx, y1: top, y2: top + 6, stroke: GREY, 'stroke-width': 1.2 }, g);
    
    
    const t2 = make('line', { x1: tx, x2: tx, y1: bottom, y2: bottom - 6, stroke: GREY, 'stroke-width': 1.2 }, g);
    
    
  });
  yTicks.forEach(v => {
    const ty = yPos(row, v);
    const t1 = make('line', { x1: left, x2: left + 6, y1: ty, y2: ty, stroke: GREY, 'stroke-width': 1.2 }, g);
    
    
    const t2 = make('line', { x1: right, x2: right - 6, y1: ty, y2: ty, stroke: GREY, 'stroke-width': 1.2 }, g);
    
    
  });

  /* Annotation box */
  const cx = left + PANEL_W / 2;
  const box = make('rect', { rx: 6, ry: 6, fill: '#fff', stroke: '#777', 'stroke-width': 1 }, g);
  
  
  const label = make('text', { x: cx, y: top + 29, 'text-anchor': 'middle', 'font-size': 20.9 }, g);
  
  
  const r = make('tspan', { 'font-style': 'italic' }, label);
  r.textContent = 'r';
  const s = make('tspan', { 'font-style': 'italic', 'font-size': 14.7, dy: 4 }, label);
  s.textContent = 'S';
  const t1 = make('tspan', { dy: -4 }, label);
  t1.textContent = ' = ' + spearmanLabels[p] + ',  ';
  const aa = make('tspan', { 'font-style': 'italic' }, label);
  aa.textContent = 'a';
  const t2 = make('tspan', {}, label);
  t2.textContent = ' = ' + slopeLabels[p];
  const bb = label.getBBox();
  box.setAttribute('x', bb.x - 6);
  box.setAttribute('width', bb.width + 12);
  box.setAttribute('y', top + 6.5);
  box.setAttribute('height', 34);
}
panelScatter.forEach((_, p) => drawPanel(p));

/* Tick labels and axis titles */
[0, 1, 2, 3].forEach(i => {
  const bottom = ROW_TOP + (i + 1) * PANEL_H;
  xTicks.forEach((v, k) => {
    const tx = xPos(i, v), ty = bottom + 25;
    const t = make('text', { x: tx, y: ty, 'text-anchor': 'middle', 'font-size': 19.6, transform: 'rotate(-30 ' + tx + ' ' + (ty - 7) + ')' }, svg);
    
    
    t.textContent = xTickLabels[k];
  });
  yTicks.forEach((v, k) => {
    const t = make('text', { x: colLefts[i] - 4, y: yPos(i, v) + 7, 'text-anchor': 'end', 'font-size': 19.6 }, svg);
    
    
    t.textContent = yTickLabels[k];
  });
  const xt = make('text', { x: colLefts[i] + 126.5, y: bottom + 54, 'text-anchor': 'middle', 'font-size': 22.6 }, svg);
  
  
  xt.textContent = xAxisTitles[i];
  const yc = ROW_TOP + i * PANEL_H + PANEL_H / 2, yx = 1095;
  const yt = make('text', { x: yx, y: yc, 'text-anchor': 'middle', 'font-size': 22.6, transform: 'rotate(-90 ' + yx + ' ' + yc + ')' }, svg);
  
  
  yt.textContent = yAxisTitles[i];
});

/* Colour bar */
const CB_X = 1132, CB_W = 18, CB_TOP = 958, CB_BOTTOM = 1275;
function cbY(v) { return CB_BOTTOM + (CB_TOP - CB_BOTTOM) * v; }
const bar = make('rect', { x: CB_X, y: CB_TOP, width: CB_W, height: CB_BOTTOM - CB_TOP, fill: 'url(#cmap)', stroke: '#777', 'stroke-width': 1 }, svg);


colourTicks.forEach((v, i) => {
  const t = make('text', { x: 1154, y: cbY(v) + 7, 'font-size': 19.6 }, svg);
  
  
  t.textContent = colourTickLabels[i];
});
const cbT1 = make('text', { x: 1143, y: 922, 'text-anchor': 'middle', 'font-size': 18.8 }, svg);


cbT1.textContent = 'KDE';
const cbT2 = make('text', { x: 1143, y: 943, 'text-anchor': 'middle', 'font-size': 18.8 }, svg);


cbT2.textContent = 'normalised';
</script>
</body>
</html>
